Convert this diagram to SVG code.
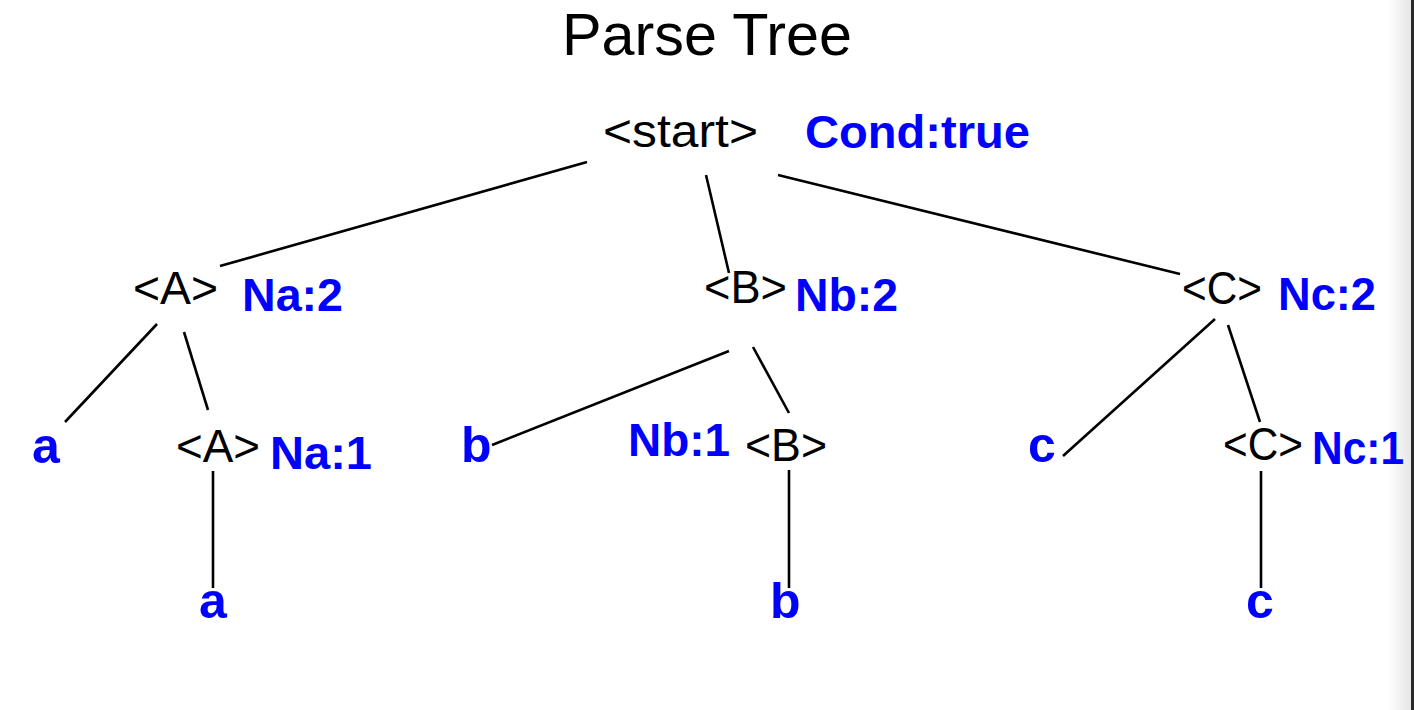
<svg xmlns="http://www.w3.org/2000/svg" width="1414" height="710" viewBox="0 0 1414 710">
<defs>
<linearGradient id="edge" x1="0" y1="0" x2="1" y2="0">
<stop offset="0" stop-color="#ffffff"/>
<stop offset="1" stop-color="#e4e4e4"/>
</linearGradient>
<style>
.t{font-family:"Liberation Sans",Arial,sans-serif;fill:#000;font-size:46px}
.title{font-family:"Liberation Sans",Arial,sans-serif;fill:#000;font-size:60px}
.v{font-family:"Liberation Sans",Arial,sans-serif;fill:#0000ff;font-weight:bold;font-size:47px}
.leaf{font-family:"Liberation Sans",Arial,sans-serif;fill:#0000ff;font-weight:bold;font-size:50px}
.e{stroke:#000;stroke-width:2.6;fill:none;stroke-linecap:butt}
</style>
</defs>
<rect x="0" y="0" width="1414" height="710" fill="#ffffff"/>
<rect x="1388" y="0" width="24" height="710" fill="url(#edge)"/>
<text class="title" x="562" y="55" textLength="290" lengthAdjust="spacingAndGlyphs">Parse Tree</text>
<g id="connectors">
<line class="e" x1="587" y1="162" x2="220" y2="266"/>
<line class="e" x1="706" y1="175" x2="729" y2="273"/>
<line class="e" x1="778" y1="175" x2="1180" y2="274"/>
<line class="e" x1="157" y1="324" x2="65" y2="422"/>
<line class="e" x1="184" y1="332" x2="208" y2="410"/>
<line class="e" x1="213" y1="471" x2="213" y2="588"/>
<line class="e" x1="729" y1="351" x2="492" y2="445"/>
<line class="e" x1="753" y1="347" x2="789" y2="413"/>
<line class="e" x1="789" y1="470" x2="789" y2="588"/>
<line class="e" x1="1215" y1="319" x2="1063" y2="456"/>
<line class="e" x1="1228" y1="325" x2="1260" y2="422"/>
<line class="e" x1="1261" y1="471" x2="1261" y2="588"/>
</g>
<g id="start">
<text class="t" x="603" y="147" textLength="155" lengthAdjust="spacingAndGlyphs">&lt;start&gt;</text>
<text class="v" x="805" y="148" textLength="225" lengthAdjust="spacingAndGlyphs">Cond:true</text>
</g>
<g id="A1">
<text class="t" x="133" y="304" textLength="85" lengthAdjust="spacingAndGlyphs">&lt;A&gt;</text>
<text class="v" x="242" y="311" textLength="101" lengthAdjust="spacingAndGlyphs">Na:2</text>
</g>
<g id="B1">
<text class="t" x="704" y="303" textLength="83" lengthAdjust="spacingAndGlyphs">&lt;B&gt;</text>
<text class="v" x="795" y="311" textLength="103" lengthAdjust="spacingAndGlyphs">Nb:2</text>
</g>
<g id="C1">
<text class="t" x="1182" y="304" textLength="80" lengthAdjust="spacingAndGlyphs">&lt;C&gt;</text>
<text class="v" x="1278" y="310" textLength="98" lengthAdjust="spacingAndGlyphs">Nc:2</text>
</g>
<g id="a1"><text class="leaf" x="32" y="463">a</text></g>
<g id="A2">
<text class="t" x="176" y="462" textLength="84" lengthAdjust="spacingAndGlyphs">&lt;A&gt;</text>
<text class="v" x="270" y="469" textLength="102" lengthAdjust="spacingAndGlyphs">Na:1</text>
</g>
<g id="b1"><text class="leaf" x="461" y="462">b</text></g>
<g id="B2">
<text class="v" x="628" y="456" textLength="102" lengthAdjust="spacingAndGlyphs">Nb:1</text>
<text class="t" x="745" y="461" textLength="82" lengthAdjust="spacingAndGlyphs">&lt;B&gt;</text>
</g>
<g id="c1"><text class="leaf" x="1028" y="462">c</text></g>
<g id="C2">
<text class="t" x="1223" y="460" textLength="80" lengthAdjust="spacingAndGlyphs">&lt;C&gt;</text>
<text class="v" x="1312" y="464" textLength="92" lengthAdjust="spacingAndGlyphs">Nc:1</text>
</g>
<g id="a2"><text class="leaf" x="199" y="618">a</text></g>
<g id="b2"><text class="leaf" x="770" y="618">b</text></g>
<g id="c2"><text class="leaf" x="1246" y="618">c</text></g>
<rect x="1411" y="0" width="3" height="710" fill="#2a2a2a"/>
</svg>
